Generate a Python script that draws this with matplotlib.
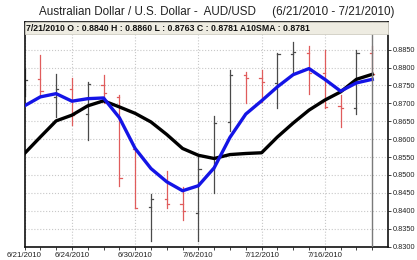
import numpy as np
import matplotlib
matplotlib.use('Agg')
import matplotlib.pyplot as plt
from matplotlib.patches import Rectangle

plt.rcParams['font.family'] = ['Liberation Sans', 'DejaVu Sans']

# trading days, 6/21/2010 - 7/21/2010
days = ['6/21/2010', '6/22/2010', '6/23/2010', '6/24/2010', '6/25/2010',
        '6/28/2010', '6/29/2010', '6/30/2010', '7/1/2010', '7/2/2010',
        '7/5/2010', '7/6/2010', '7/7/2010', '7/8/2010', '7/9/2010',
        '7/12/2010', '7/13/2010', '7/14/2010', '7/15/2010', '7/16/2010',
        '7/19/2010', '7/20/2010', '7/21/2010']
opens = [0.8740, 0.8767, 0.8718, 0.8741, 0.8670, 0.8752, 0.8718, 0.8573,
         0.8411, 0.8434, 0.8419, 0.8394, 0.8518, 0.8648, 0.8780, 0.8770,
         0.8757, 0.8838, 0.8840, 0.8786, 0.8692, 0.8686, 0.8840]
highs = [0.8795, 0.8834, 0.8783, 0.8771, 0.8760, 0.8780, 0.8723, 0.8576,
         0.8448, 0.8511, 0.8467, 0.8550, 0.8664, 0.8792, 0.8788, 0.8792,
         0.8841, 0.8871, 0.8859, 0.8848, 0.8723, 0.8850, 0.8860]
lows = [0.8720, 0.8723, 0.8662, 0.8639, 0.8599, 0.8700, 0.8469, 0.8407,
        0.8315, 0.8407, 0.8374, 0.8315, 0.8451, 0.8623, 0.8700, 0.8704,
        0.8686, 0.8788, 0.8727, 0.8686, 0.8634, 0.8670, 0.8763]
closes = [0.8765, 0.8735, 0.8741, 0.8667, 0.8753, 0.8728, 0.8492, 0.8408,
          0.8434, 0.8420, 0.8399, 0.8518, 0.8645, 0.8778, 0.8770, 0.8760,
          0.8839, 0.8843, 0.8786, 0.8690, 0.8686, 0.8841, 0.8781]
fast_ma = [0.8693, 0.8718, 0.8727, 0.8706, 0.8713, 0.8715, 0.8660, 0.8574,
           0.8518, 0.8481, 0.8456, 0.8470, 0.8520, 0.8605, 0.8670, 0.8707,
           0.8746, 0.8780, 0.8797, 0.8767, 0.8734, 0.8757, 0.8767]
sma10 = [0.8560, 0.8606, 0.8651, 0.8667, 0.8693, 0.8707, 0.8690, 0.8672,
         0.8648, 0.8613, 0.8574, 0.8555, 0.8546, 0.8557, 0.8560, 0.8562,
         0.8606, 0.8645, 0.8681, 0.8709, 0.8732, 0.8767, 0.8781]
tick_days = ['6/21/2010', '6/24/2010', '6/30/2010', '7/6/2010', '7/12/2010', '7/16/2010']
yticks = np.arange(0.8300, 0.88501, 0.005)

title = 'Australian Dollar / U.S. Dollar -  AUD/USD     (6/21/2010 - 7/21/2010)'
header = '7/21/2010 O : 0.8840 H : 0.8860 L : 0.8763 C : 0.8781 A10SMA : 0.8781'

fig = plt.figure(figsize=(4.17, 2.60), dpi=100)
ax = fig.add_axes([0.0588, 0.05, 0.8717, 0.864])

x = np.arange(len(days))
w = 0.14
for i in x:
    col = '#e05c5c' if closes[i] < opens[i] else '#4a4a4a'
    ax.plot([i, i], [lows[i], highs[i]], color=col, lw=0.9, zorder=2)
    ax.plot([i - w, i], [opens[i], opens[i]], color=col, lw=0.9, zorder=2)
    ax.plot([i, i + w], [closes[i], closes[i]], color=col, lw=0.9, zorder=2)

ax.plot(x, sma10, color='black', lw=2.4, zorder=3, solid_joinstyle='round')
ax.plot(x, fast_ma, color='#1414e6', lw=2.4, zorder=4, solid_joinstyle='round')

# cursor line on the last bar
ax.axvline(len(days) - 1, color='#7a7a7a', lw=1.0, zorder=5)

ax.set_xlim(0, 23.0)
ax.set_ylim(0.8299, 0.8926)

tpos = [days.index(d) for d in tick_days]
ax.set_xticks(tpos)
ax.set_xticklabels(tick_days, fontsize=5.7)
ax.set_xticks(x, minor=True)
ax.set_yticks(yticks)
ax.set_yticklabels(['%.4f' % v for v in yticks], fontsize=5.3)
ax.yaxis.tick_right()
ax.tick_params(axis='both', which='both', length=2, width=0.6, pad=1.5, colors='#222222')
ax.tick_params(axis='y', pad=1.5)

ax.grid(True, which='major', linestyle=':', color='#c8c8c8', lw=0.8)
for s in ax.spines.values():
    s.set_linewidth(1.2)
    s.set_color('#111111')

# info strip
ax.add_patch(Rectangle((0, 1 - 11.5 / 224.7), 1, 11.5 / 224.7, transform=ax.transAxes,
                       facecolor='#eeece2', edgecolor='#cfcdc2', lw=0.6, zorder=6, clip_on=False))
ax.text(0.005, 1 - 5.8 / 224.7, header, transform=ax.transAxes, fontsize=6.3,
        fontweight='bold', va='center', ha='left', color='#111111', zorder=7)

fig.text(0.519, 0.952, title, fontsize=8.4, ha='center', va='center', color='#222222')

fig.savefig('out.png', dpi=100)
